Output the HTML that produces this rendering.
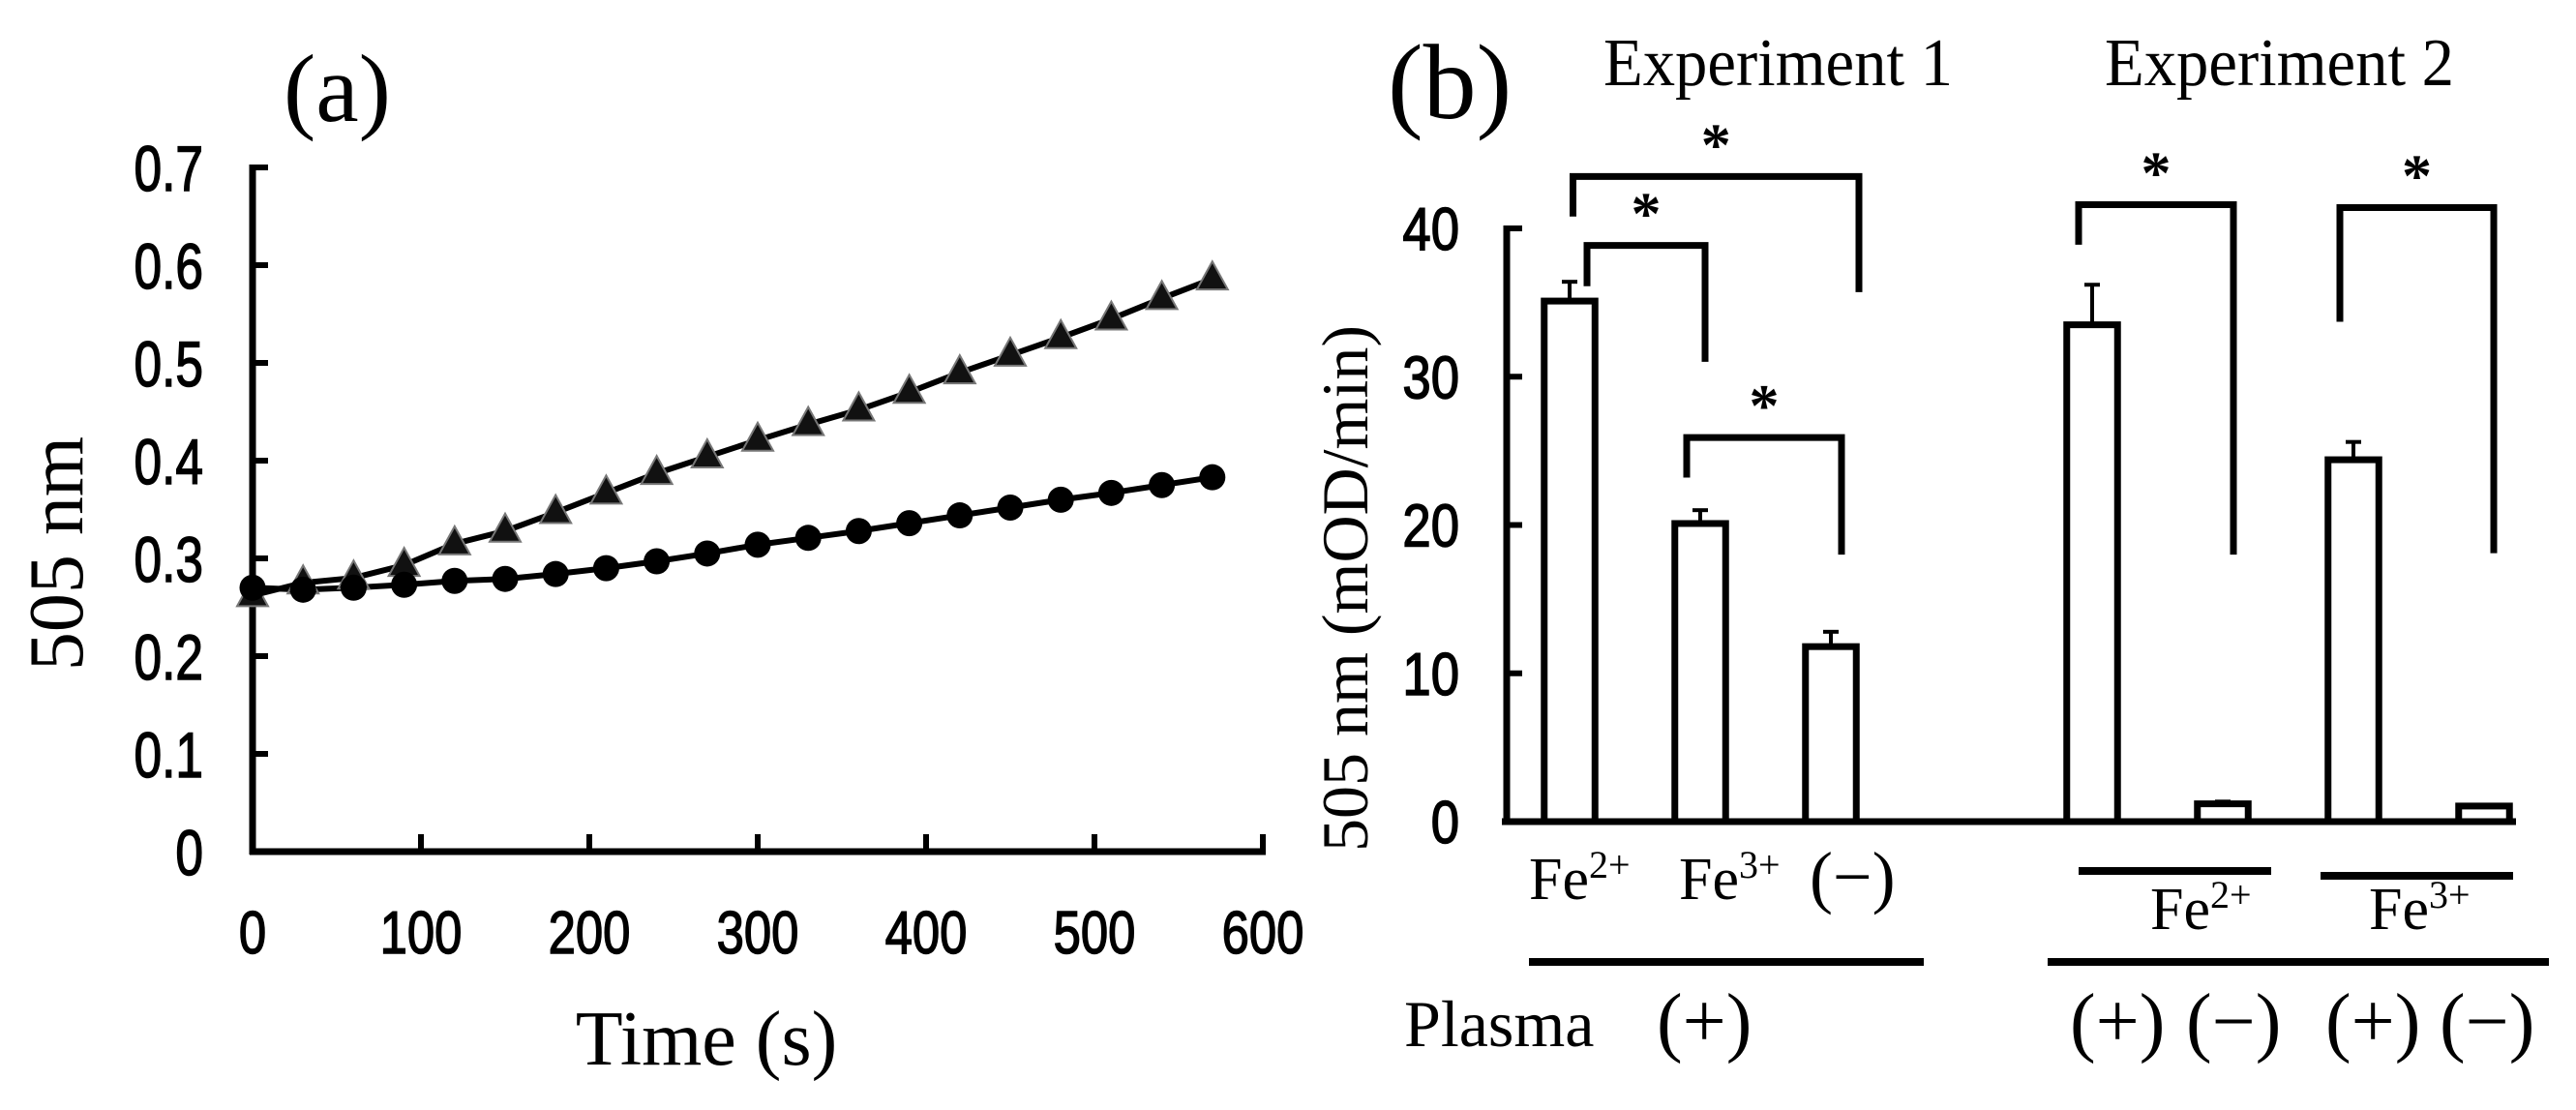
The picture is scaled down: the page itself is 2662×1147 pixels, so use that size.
<!DOCTYPE html>
<html><head><meta charset="utf-8"><style>
html,body{margin:0;padding:0;background:#fff;}
svg{display:block;}
.serif{font-family:"Liberation Serif","DejaVu Serif",serif;}
.sans{font-family:"Liberation Sans","DejaVu Sans",sans-serif;}
</style></head><body>
<svg id="fig" width="2662" height="1147" viewBox="0 0 2662 1147" xmlns="http://www.w3.org/2000/svg">
  <g id="panelA"></g>
  <g id="panelB"></g>
</svg>
<script>
// ---------- Panel (a) data ----------
const timeValues = [0,30,60,90,120,150,180,210,240,270,300,330,360,390,420,450,480,510,540,570];
const triangleSeries = [0.262,0.275,0.280,0.293,0.315,0.328,0.347,0.367,0.387,0.404,0.421,0.437,0.452,0.470,0.490,0.508,0.526,0.545,0.566,0.586];
const circleSeries = [0.270,0.268,0.270,0.273,0.277,0.279,0.284,0.290,0.297,0.305,0.314,0.321,0.328,0.336,0.344,0.352,0.360,0.367,0.375,0.383];
const aYTicks = [0,0.1,0.2,0.3,0.4,0.5,0.6,0.7];
const aYTickLabels = ["0","0.1","0.2","0.3","0.4","0.5","0.6","0.7"];
const aXTicks = [0,100,200,300,400,500,600];
const aXTickLabels = ["0","100","200","300","400","500","600"];

// ---------- Panel (b) data ----------
const barCategories = ["exp1-fe2-plasma","exp1-fe3-plasma","exp1-none-plasma","exp2-fe2-plasma","exp2-fe2-noplasma","exp2-fe3-plasma","exp2-fe3-noplasma"];
const barSlots = [0,1,2,4,5,6,7];
const barValues = [35.1,20.1,11.8,33.5,1.2,24.4,1.05];
const barErrors = [1.3,0.9,1.0,2.7,0.15,1.2,0.05];
const bYTicks = [0,10,20,30,40];
const bYTickLabels = ["0","10","20","30","40"];
const bracketBars = [[0,2],[0,1],[1,2],[3,4],[5,6]];
const bracketTops = [43.5,38.85,25.9,41.6,41.4];
const bracketLeftEnds = [40.8,36.1,23.2,38.9,33.7];
const bracketRightEnds = [35.7,31.0,18.0,18.0,18.1];

const NS = "http://www.w3.org/2000/svg";
function mk(tag, parent, attrs){
  const e = document.createElementNS(NS, tag);
  for (const k in attrs) e.setAttribute(k, attrs[k]);
  parent.appendChild(e);
  return e;
}

// ===== Panel A =====
const A = document.getElementById('panelA');
const ax = t => 261 + t * (1305 - 261) / 600;
const ay = v => 880 - v * (880 - 173) / 0.7;

let el;
el = mk('line', A, {x1:ax(0), y1:ay(0.7)-3, x2:ax(0), y2:ay(0)+3, stroke:'#000','stroke-width':7});


el = mk('line', A, {x1:ax(0)-3, y1:ay(0), x2:ax(600)+3, y2:ay(0), stroke:'#000','stroke-width':7});



aYTicks.forEach((v,i)=>{
  const t = mk('line', A, {x1:ax(0), y1:ay(v), x2:ax(0)+16, y2:ay(v), stroke:'#000','stroke-width':6});
  
  
  const l = mk('text', A, {x:0, y:0, 'text-anchor':'end', 'font-size':66, class:'sans', stroke:'#000','stroke-width':1.5, transform:`translate(210,${ay(v)+24}) scale(0.78,1)`});
  l.textContent = aYTickLabels[i];
  
  
});
aXTicks.forEach((v,i)=>{
  const t = mk('line', A, {x1:ax(v), y1:ay(0), x2:ax(v), y2:ay(0)-18, stroke:'#000','stroke-width':6});
  
  
  const l = mk('text', A, {x:0, y:0, 'text-anchor':'middle', 'font-size':62, class:'sans', stroke:'#000','stroke-width':1.5, transform:`translate(${ax(v)},${985}) scale(0.82,1)`});
  l.textContent = aXTickLabels[i];
  
  
});

const triPts = timeValues.map((t,i)=>ax(t)+','+ay(triangleSeries[i])).join(' ');
el = mk('polyline', A, {points:triPts, fill:'none', stroke:'#000','stroke-width':6});


const cirPts = timeValues.map((t,i)=>ax(t)+','+ay(circleSeries[i])).join(' ');
el = mk('polyline', A, {points:cirPts, fill:'none', stroke:'#000','stroke-width':6});



timeValues.forEach((t,i)=>{
  const x = ax(t), y = ay(triangleSeries[i]);
  const p = mk('polygon', A, {points:`${x},${y-18} ${x-16},${y+11} ${x+16},${y+11}`, fill:'#111', stroke:'#777','stroke-width':2});
  
  
});
timeValues.forEach((t,i)=>{
  const c = mk('circle', A, {cx:ax(t), cy:ay(circleSeries[i]), r:13.5, fill:'#000'});
  
  
});

el = mk('text', A, {x:293, y:125, 'font-size':100, class:'serif'});
el.textContent = '(a)';


el = mk('text', A, {x:730, y:1100, 'text-anchor':'middle', 'font-size':80, class:'serif'});
el.textContent = 'Time (s)';


el = mk('text', A, {x:0, y:0, 'text-anchor':'middle', 'font-size':80, class:'serif', transform:'translate(85,572) rotate(-90)'});
el.textContent = '505 nm';



// ===== Panel B =====
const B = document.getElementById('panelB');
const bx = slot => 1622 + slot * 135;
const by = v => 849 - v * (849 - 236) / 40;
const BW = 52.5;

el = mk('line', B, {x1:1557, y1:by(40)-3, x2:1557, y2:by(0), stroke:'#000','stroke-width':7});


el = mk('line', B, {x1:1552, y1:by(0), x2:2600, y2:by(0), stroke:'#000','stroke-width':7});


bYTicks.forEach((v,i)=>{
  const t = mk('line', B, {x1:1557, y1:by(v), x2:1573, y2:by(v), stroke:'#000','stroke-width':6});
  
  
  const l = mk('text', B, {x:0, y:0, 'text-anchor':'end', 'font-size':62, class:'sans', stroke:'#000','stroke-width':1.5, transform:`translate(1508,${by(v)+22}) scale(0.85,1)`});
  l.textContent = bYTickLabels[i];
  
  
});

barValues.forEach((v,i)=>{
  const cx = bx(barSlots[i]);
  const top = by(v + barErrors[i]);
  const e1 = mk('line', B, {x1:cx, y1:by(v), x2:cx, y2:top, stroke:'#000','stroke-width':4});
  
  
  const e2 = mk('line', B, {x1:cx-8, y1:top, x2:cx+8, y2:top, stroke:'#000','stroke-width':4});
  
  
  const r = mk('rect', B, {x:cx-BW/2, y:by(v), width:BW, height:by(0)-by(v), fill:'#fff', stroke:'#000','stroke-width':7});
  
  
});

const bracketOffsets = [[3.5,29],[18,5],[-14,11],[-14,11],[-14,10]];
bracketBars.forEach((bb,i)=>{
  const xl = bx(barSlots[bb[0]]) + bracketOffsets[i][0];
  const xr = bx(barSlots[bb[1]]) + bracketOffsets[i][1];
  const p = mk('polyline', B, {points:`${xl},${by(bracketLeftEnds[i])} ${xl},${by(bracketTops[i])} ${xr},${by(bracketTops[i])} ${xr},${by(bracketRightEnds[i])}`, fill:'none', stroke:'#000','stroke-width':7});
  
  
  const s = mk('text', B, {x:(xl+xr)/2, y:by(bracketTops[i])-12, 'text-anchor':'middle', 'font-size':62, class:'serif', 'font-weight':'bold'});
  s.textContent = '*';
  
  
});

function label(txt, x, y, size, name, len){
  const attrs = {x:x, y:y, 'font-size':size, class:'serif'};
  if (len) { attrs.textLength = len; attrs.lengthAdjust = 'spacingAndGlyphs'; }
  const t = mk('text', B, attrs);
  t.textContent = txt;
  
  
  return t;
}
function feLabel(x, y, charge, name){
  const t = mk('text', B, {x:x, y:y, 'font-size':62, class:'serif'});
  
  
  const a = mk('tspan', t, {});
  a.textContent = 'Fe';
  const b = mk('tspan', t, {dy:-22, 'font-size':40});
  b.textContent = charge;
  return t;
}
label('(b)', 1434, 122, 110, 'panel-b-label');
label('Experiment 1', 1657, 88, 70, 'experiment-1-title', 361);
label('Experiment 2', 2175, 88, 70, 'experiment-2-title', 361);
el = mk('text', B, {x:0, y:0, 'text-anchor':'middle', 'font-size':68, class:'serif', transform:'translate(1413,608) rotate(-90)'});
el.textContent = '505 nm (mOD/min)';



feLabel(1580, 929, '2+', 'label-fe2-exp1');
feLabel(1735, 929, '3+', 'label-fe3-exp1');
label('(\u2212)', 1870, 930, 72, 'label-none-exp1');
feLabel(2222, 960, '2+', 'label-fe2-exp2');
feLabel(2448, 960, '3+', 'label-fe3-exp2');

[[2148,2347,900],[2398,2597,905],[1580,1988,994],[2116,2634,994]].forEach(l=>{
  const ln = mk('line', B, {x1:l[0], y1:l[2], x2:l[1], y2:l[2], stroke:'#000','stroke-width':8});
  
  
});

label('Plasma', 1451, 1081, 68, 'plasma-label');
label('(+)', 1712, 1082, 80, 'plasma-plus-exp1');
label('(+)', 2139, 1082, 80, 'plasma-plus-fe2');
label('(\u2212)', 2259, 1082, 80, 'plasma-minus-fe2');
label('(+)', 2403, 1082, 80, 'plasma-plus-fe3');
label('(\u2212)', 2521, 1082, 80, 'plasma-minus-fe3');
</script>
</body></html>
